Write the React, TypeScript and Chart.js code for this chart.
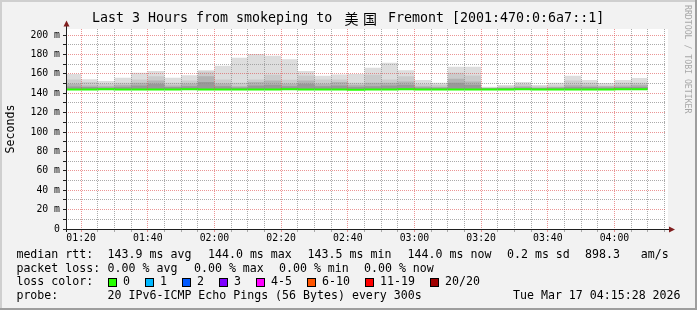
import React, { useEffect, useRef } from "react";
import { Chart, registerables } from "chart.js";

Chart.register(...registerables);

// ---------- data ----------
const BAR_STARTS = [
  "01:15", "01:20", "01:25", "01:30", "01:35", "01:40", "01:45", "01:50", "01:55",
  "02:00", "02:05", "02:10", "02:15", "02:20", "02:25", "02:30", "02:35", "02:40",
  "02:45", "02:50", "02:55", "03:00", "03:05", "03:10", "03:15", "03:20", "03:25",
  "03:30", "03:35", "03:40", "03:45", "03:50", "03:55", "04:00", "04:05",
];
const STEP_MINUTES = 5;

// smoke: outermost (max ping) down to innermost band, ms
const SMOKE_MAX = [
  159.7, 154.5, 152.5, 155.9, 161.1, 162.8, 155.9, 158.6, 163.8, 168.3, 176.5, 180.3,
  178.6, 175.1, 162.8, 157.9, 159.3, 159.7, 166.2, 171.4, 163.8, 153.5, 150.8, 167.2,
  167.2, 146.6, 148.4, 151.5, 148.4, 150.8, 157.9, 153.5, 150.4, 153.5, 155.6,
];
const SMOKE_UPPER = [
  154.2, 151.5, 149.7, 150.7, 154.2, 157.6, 150.7, 153.2, 162.4, 154.2, 150.7, 154.2,
  159.0, 153.9, 158.3, 154.2, 154.2, 150.7, 159.0, 154.2, 157.6, 149.4, 148.7, 161.1,
  158.3, 146.0, 147.3, 149.4, 147.3, 148.0, 153.2, 150.7, 148.0, 150.7, 150.7,
];
const SMOKE_MID = [
  149.7, 148.0, 147.3, 148.7, 150.7, 153.2, 148.0, 150.1, 157.6, 150.1, 147.3, 151.5,
  153.2, 149.7, 153.2, 149.7, 151.5, 148.7, 150.7, 150.7, 152.1, 147.3, 146.6, 154.9,
  152.1, 145.3, 146.0, 147.3, 146.0, 146.3, 148.7, 148.0, 147.3, 148.0, 148.7,
];
const SMOKE_INNER = [
  147.0, 146.3, 146.0, 146.6, 148.0, 149.7, 146.3, 147.3, 151.5, 147.3, 146.0, 148.0,
  148.7, 147.3, 149.7, 147.3, 148.0, 146.6, 147.3, 148.0, 148.7, 146.0, 145.6, 150.8,
  148.7, 145.0, 145.3, 146.0, 145.3, 145.6, 146.6, 146.3, 146.0, 146.3, 146.6,
];
const SMOKE_MIN = 143.3;
const MEDIAN_RTT = [
  143.9, 143.9, 144.0, 143.9, 143.9, 143.8, 143.9, 144.0, 143.9, 143.9, 143.9, 143.8,
  143.9, 144.0, 143.9, 143.9, 143.9, 143.5, 143.9, 143.9, 144.0, 143.9, 143.9, 143.9,
  143.8, 143.9, 143.9, 144.0, 143.9, 143.9, 143.9, 143.9, 143.9, 144.0, 144.0,
];

const RANGE_START = "01:15:28";
const RANGE_END = "04:15:28";
const Y_MAX = 206.2;
const Y_TICK_STEP = 10;
const Y_LABEL_STEP = 20;
const Y_TICK_TOP = 200;
const X_LABEL_STEP = 20;

const TITLE_PREFIX = "Last 3 Hours from smokeping to ";
const TITLE_CJK = ["美", "国"];
const TITLE_SUFFIX = " Fremont [2001:470:0:6a7::1]";
const Y_TITLE = "Seconds";
const WATERMARK = "RRDTOOL / TOBI OETIKER";

const RTT_LABEL = "median rtt:";
const RTT_ITEMS = ["143.9 ms avg", "144.0 ms max", "143.5 ms min", "144.0 ms now", "0.2 ms sd", "898.3   am/s"];
const LOSS_LABEL = "packet loss:";
const LOSS_ITEMS = ["0.00 % avg", "0.00 % max", "0.00 % min", "0.00 % now"];
const LOSS_COLOR_LABEL = "loss color:";
const LOSS_BINS = ["0", "1", "2", "3", "4-5", "6-10", "11-19", "20/20"];
const LOSS_COLORS = ["#26ff00", "#00b8ff", "#0059ff", "#7e00ff", "#ff00ff", "#ff5500", "#ff0000", "#a00000"];
const PROBE_LABEL = "probe:";
const PROBE_TEXT = "20 IPv6-ICMP Echo Pings (56 Bytes) every 300s";
const STAMP = "Tue Mar 17 04:15:28 2026";

// ---------- helpers ----------
const toMin = (s: string) => {
  const p = s.split(":").map(Number);
  return p[0] * 60 + p[1] + (p[2] || 0) / 60;
};
const fmt = (v: number) =>
  `${String(Math.floor(v / 60)).padStart(2, "0")}:${String(Math.round(v % 60)).padStart(2, "0")}`;

const starts = BAR_STARTS.map(toMin);
const stepPoints = (vals: number[]) => {
  const pts = starts.map((s, i) => ({ x: s, y: vals[i] }));
  pts.push({ x: starts[starts.length - 1] + STEP_MINUTES, y: vals[vals.length - 1] });
  return pts;
};

const MONO = '"DejaVu Sans Mono", monospace';
const GRID_MINOR = "rgba(143,143,143,0.75)";
const GRID_MAJOR = "rgba(222,79,79,0.6)";

const decor = {
  id: "rrdDecor",
  beforeDraw(chart: any) {
    const { ctx, chartArea: a, width, height } = chart;
    ctx.save();
    ctx.fillStyle = "#f2f2f2";
    ctx.fillRect(0, 0, width, height);
    ctx.fillStyle = "#cfcfcf";
    ctx.fillRect(0, 0, width, 2);
    ctx.fillRect(0, 0, 2, height);
    ctx.fillStyle = "#9e9e9e";
    ctx.fillRect(0, height - 2, width, 2);
    ctx.fillRect(width - 2, 0, 2, height);
    ctx.fillStyle = "#ffffff";
    ctx.fillRect(a.left, a.top, a.right - a.left + 2, a.bottom - a.top);
    ctx.restore();
  },
  afterDraw(chart: any) {
    const { ctx, chartArea: a } = chart;
    ctx.save();
    // axes
    ctx.strokeStyle = "#1f1f1f";
    ctx.lineWidth = 1;
    ctx.beginPath();
    ctx.moveTo(a.left - 2, a.bottom + 0.5);
    ctx.lineTo(a.right + 4, a.bottom + 0.5);
    ctx.moveTo(a.left + 0.5, a.bottom + 3);
    ctx.lineTo(a.left + 0.5, a.top - 3);
    ctx.stroke();
    // arrows
    ctx.fillStyle = "#801f1f";
    ctx.beginPath();
    ctx.moveTo(a.left + 0.5, a.top - 8.5);
    ctx.lineTo(a.left - 2.5, a.top - 2.5);
    ctx.lineTo(a.left + 3.5, a.top - 2.5);
    ctx.closePath();
    ctx.fill();
    ctx.beginPath();
    ctx.moveTo(a.right + 9, a.bottom + 0.5);
    ctx.lineTo(a.right + 3, a.bottom - 2.5);
    ctx.lineTo(a.right + 3, a.bottom + 3.5);
    ctx.closePath();
    ctx.fill();

    const text = (s: string, x: number, y: number, font: string, align: CanvasTextAlign = "left", color = "#000") => {
      ctx.font = font;
      ctx.fillStyle = color;
      ctx.textAlign = align;
      ctx.textBaseline = "middle";
      ctx.fillText(s, x, y);
    };

    // title
    const tf = `13.3px ${MONO}`;
    text(TITLE_PREFIX, 92, 19, tf);
    text(TITLE_CJK[0], 351.5, 19, '14px "Noto Sans CJK SC"', "center");
    text(TITLE_CJK[1], 370, 19, '14px "Noto Sans CJK SC"', "center");
    text(TITLE_SUFFIX, 380, 19, tf);

    // y title
    ctx.save();
    ctx.translate(11, (a.top + a.bottom) / 2);
    ctx.rotate(-Math.PI / 2);
    text(Y_TITLE, 0, 0, `11.6px ${MONO}`, "center");
    ctx.restore();

    // watermark
    ctx.save();
    ctx.translate(687, 5);
    ctx.rotate(Math.PI / 2);
    text(WATERMARK, 0, 0, `8.2px ${MONO}`, "left", "#a8a8a8");
    ctx.restore();

    // legend
    const lf = `11.6px ${MONO}`;
    const r1 = 255, r2 = 268.5, r3 = 282.3, r4 = 296;
    text(RTT_LABEL, 16.4, r1, lf);
    const rttX = [107.6, 208, 307.6, 407.6, 507, 585];
    RTT_ITEMS.forEach((s, i) => text(s, rttX[i], r1, lf));
    text(LOSS_LABEL, 16.4, r2, lf);
    const lossX = [107.6, 194, 279, 364];
    LOSS_ITEMS.forEach((s, i) => text(s, lossX[i], r2, lf));
    text(LOSS_COLOR_LABEL, 16.4, r3, lf);
    const boxX = [108, 145.3, 182, 219, 256, 306.7, 365, 430];
    LOSS_BINS.forEach((s, i) => {
      const bx = Math.round(boxX[i]);
      ctx.fillStyle = "#000";
      ctx.fillRect(bx, 278, 9, 9);
      ctx.fillStyle = LOSS_COLORS[i];
      ctx.fillRect(bx + 1, 279, 7, 7);
      text(s, bx + 15, r3, lf);
    });
    text(PROBE_LABEL, 16.4, r4, lf);
    text(PROBE_TEXT, 107.6, r4, lf);
    text(STAMP, 513, r4, lf);
    ctx.restore();
  },
};

export default function App() {
  const ref = useRef<HTMLCanvasElement | null>(null);
  useEffect(() => {
    if (!ref.current) return;
    const xMin = toMin(RANGE_START);
    const xMax = toMin(RANGE_END);
    const xTicks: number[] = [];
    for (let v = Math.ceil(xMin / STEP_MINUTES) * STEP_MINUTES; v <= xMax; v += STEP_MINUTES) xTicks.push(v);
    const yTicks: number[] = [];
    for (let v = 0; v <= Y_TICK_TOP; v += Y_TICK_STEP) yTicks.push(v);

    const smoke = (data: number[], color: string) => ({
      data: stepPoints(data),
      borderWidth: 0,
      borderColor: "transparent",
      backgroundColor: color,
      pointRadius: 0,
      stepped: true,
      fill: { value: SMOKE_MIN },
      clip: 0,
    });

    const chart = new Chart(ref.current, {
      type: "line",
      data: {
        datasets: [
          {
            data: stepPoints(MEDIAN_RTT),
            borderColor: "#26ff00",
            borderWidth: 2,
            pointRadius: 0,
            stepped: true,
            fill: false,
            clip: 0,
          } as any,
          smoke(SMOKE_INNER, "#999999"),
          smoke(SMOKE_MID, "#b3b3b3"),
          smoke(SMOKE_UPPER, "#cbcbcb"),
          smoke(SMOKE_MAX, "#dddddd"),
        ],
      },
      options: {
        animation: false,
        responsive: false,
        maintainAspectRatio: false,
        devicePixelRatio: 1,
        events: [],
        layout: { padding: { top: 29, right: 31, left: 0, bottom: 0 } },
        plugins: { legend: { display: false }, title: { display: false }, tooltip: { enabled: false } },
        scales: {
          x: {
            type: "linear",
            min: xMin,
            max: xMax,
            afterFit: (s: any) => {
              s.height = 81;
            },
            afterBuildTicks: (axis: any) => {
              axis.ticks = xTicks.map((v) => ({ value: v }));
            },
            ticks: {
              autoSkip: false,
              maxRotation: 0,
              minRotation: 0,
              padding: 1,
              color: "#000",
              font: { family: MONO, size: 9.8 },
              callback: (v: any) => (Number(v) % X_LABEL_STEP === 0 ? fmt(Number(v)) : ""),
            },
            grid: {
              z: 1,
              color: (c: any) => (c.tick && c.tick.value % X_LABEL_STEP === 0 ? GRID_MAJOR : GRID_MINOR),
              lineWidth: 1,
              drawTicks: true,
              tickLength: 3,
              tickColor: (c: any) => (c.tick && c.tick.value % X_LABEL_STEP === 0 ? GRID_MAJOR : GRID_MINOR),
              tickBorderDash: [],
            },
            border: { display: false, dash: [1, 1] },
          } as any,
          y: {
            type: "linear",
            min: 0,
            max: Y_MAX,
            afterFit: (s: any) => {
              s.width = 66;
            },
            afterBuildTicks: (axis: any) => {
              axis.ticks = yTicks.map((v) => ({ value: v }));
            },
            ticks: {
              autoSkip: false,
              padding: 3,
              color: "#000",
              font: { family: MONO, size: 9.8 },
              callback: (v: any) => {
                const n = Number(v);
                if (n % Y_LABEL_STEP !== 0) return "";
                return n === 0 ? "0" : `${n} m`;
              },
            },
            grid: {
              z: 1,
              color: (c: any) => (c.tick && c.tick.value % Y_LABEL_STEP === 0 ? GRID_MAJOR : GRID_MINOR),
              lineWidth: 1,
              drawTicks: true,
              tickLength: 3,
              tickColor: "#1f1f1f",
              tickBorderDash: [],
            },
            border: { display: false, dash: [1, 1] },
          } as any,
        },
      },
      plugins: [decor],
    });
    return () => chart.destroy();
  }, []);

  return (
    <div style={{ position: "fixed", left: 0, top: 0, width: 697, height: 310 }}>
      <canvas ref={ref} width={697} height={310} style={{ width: 697, height: 310, display: "block" }} />
    </div>
  );
}
